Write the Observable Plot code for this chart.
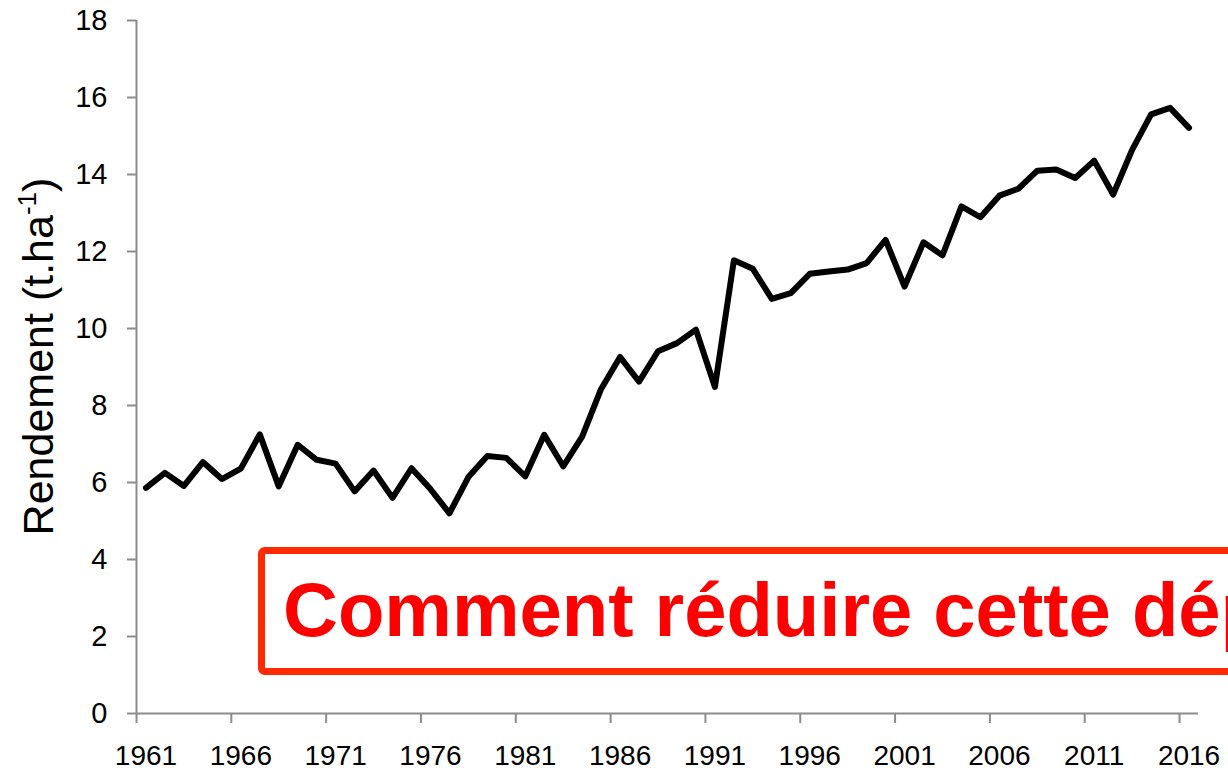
<!DOCTYPE html>
<html>
<head>
<meta charset="utf-8">
<script src="https://cdn.jsdelivr.net/npm/d3@7"></script>
<script src="https://cdn.jsdelivr.net/npm/@observablehq/plot@0.6"></script>
<style>
  html, body { margin: 0; padding: 0; background: white; }
  #chart { position: relative; width: 1228px; height: 772px; overflow: hidden; }
  svg { display: block; }
</style>
</head>
<body>
<div id="chart"></div>
<script>
const years = [1961,1962,1963,1964,1965,1966,1967,1968,1969,1970,
  1971,1972,1973,1974,1975,1976,1977,1978,1979,1980,
  1981,1982,1983,1984,1985,1986,1987,1988,1989,1990,
  1991,1992,1993,1994,1995,1996,1997,1998,1999,2000,
  2001,2002,2003,2004,2005,2006,2007,2008,2009,2010,
  2011,2012,2013,2014,2015,2016];
const yields = [5.86,6.25,5.91,6.53,6.09,6.36,7.25,5.90,6.98,6.59,
  6.49,5.77,6.31,5.60,6.37,5.83,5.20,6.14,6.69,6.64,
  6.16,7.24,6.42,7.19,8.43,9.26,8.62,9.41,9.62,9.97,
  8.48,11.77,11.55,10.77,10.92,11.42,11.48,11.53,11.70,12.30,
  11.09,12.24,11.90,13.17,12.89,13.45,13.63,14.10,14.13,13.91,
  14.36,13.48,14.64,15.56,15.73,15.21];
const yTicks = [0,2,4,6,8,10,12,14,16,18];
const xLabels = [1961,1966,1971,1976,1981,1986,1991,1996,2001,2006,2011,2016];
const xTickMarks = [1960.5,1965.5,1970.5,1975.5,1980.5,1985.5,1990.5,1995.5,2000.5,2005.5,2010.5,2015.5];
const yLabel = "Rendement (t.ha";
const yLabelSup = "-1";
const yLabelEnd = ")";
const noteText = "Comment réduire cette dépendance ?";

const data = years.map((year, i) => ({year, value: yields[i]}));
const axisGrey = "#8c8c8c";

const chart = Plot.plot({
  width: 1228,
  height: 772,
  marginLeft: 136,
  marginRight: 30,
  marginTop: 20,
  marginBottom: 59,
  style: {fontFamily: "'Liberation Sans', Arial, sans-serif", background: "white", color: "black"},
  x: {domain: [1960.5, 2016.5]},
  y: {domain: [0, 18]},
  marks: [
    Plot.ruleY([0], {stroke: axisGrey, strokeWidth: 2}),
    Plot.ruleX([1960.5], {stroke: axisGrey, strokeWidth: 2}),
    Plot.axisY({ticks: yTicks, tickSize: 9, tickPadding: 20, fontSize: 29, stroke: axisGrey, strokeWidth: 2, label: null, tickFormat: d => String(d)}),
    Plot.axisX({ticks: xTickMarks, tickSize: 10, tickFormat: () => "", stroke: axisGrey, strokeWidth: 2, label: null}),
    Plot.axisX({ticks: xLabels, tickSize: 0, tickPadding: 32, fontSize: 28, label: null, tickFormat: d => String(d)}),
    Plot.line(data, {x: "year", y: "value", stroke: "black", strokeWidth: 6, strokeLinejoin: "round", strokeLinecap: "round"})
  ]
});

document.getElementById("chart").appendChild(chart);

const svg = d3.select(chart);
// Y-axis title with superscript
const t = svg.append("text")
  .attr("transform", "translate(53,356.5) rotate(-90)")
  .attr("text-anchor", "middle")
  .attr("font-size", 43)
  .attr("fill", "black");
t.append("tspan").text(yLabel);
t.append("tspan").attr("font-size", 26).attr("dy", "-17").text(yLabelSup);
t.append("tspan").attr("dy", "17").text(yLabelEnd);

// Annotation box
svg.append("rect")
  .attr("x", 261.5).attr("y", 550.5)
  .attr("width", 1100).attr("height", 121)
  .attr("rx", 3)
  .attr("fill", "white")
  .attr("stroke", "#ff2a00")
  .attr("stroke-width", 7);
svg.append("text")
  .attr("x", 283).attr("y", 636)
  .attr("text-anchor", "start")
  .attr("font-size", 76)
  .attr("font-weight", "bold")
  .attr("fill", "#ff0000")
  .text(noteText);
</script>
</body>
</html>
